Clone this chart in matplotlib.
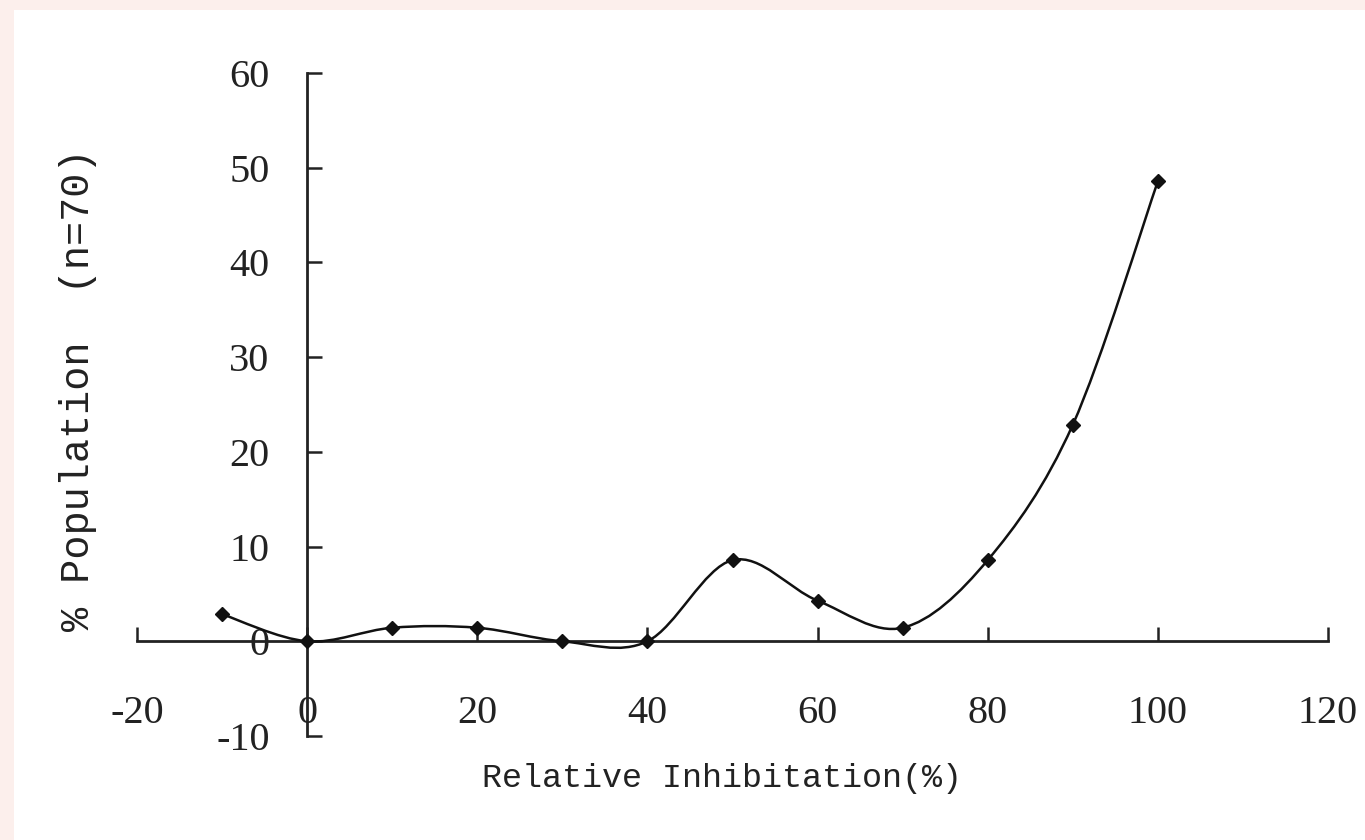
import numpy as np
import matplotlib
matplotlib.use("Agg")
import matplotlib.pyplot as plt
from matplotlib.path import Path
from matplotlib.patches import PathPatch, Rectangle

# Data
inhibition = [-10, 0, 10, 20, 30, 40, 50, 60, 70, 80, 90, 100]
population = [2.86, 0.0, 1.43, 1.43, 0.0, 0.0, 8.57, 4.29, 1.43, 8.57, 22.86, 48.57]
x_ticks = [-20, 0, 20, 40, 60, 80, 100, 120]
y_ticks = [-10, 0, 10, 20, 30, 40, 50, 60]
x_label = "Relative Inhibitation(%)"
y_label = "% Population  (n=70)"

fig = plt.figure(figsize=(13.65, 8.4), dpi=100)
fig.patch.set_facecolor("#fcefec")
bg = Rectangle((14 / 1365, 0), 1 - 14 / 1365, 1 - 10 / 840,
               transform=fig.transFigure, facecolor="white",
               edgecolor="none", zorder=-10)
fig.patches.append(bg)

ax = fig.add_axes([137 / 1365, 1 - 736 / 840, (1328 - 137) / 1365, (736 - 73) / 840])
ax.set_zorder(5)
ax.set_facecolor("none")
ax.set_xlim(-20, 120)
ax.set_ylim(-10, 60)

# smoothed curve (Catmull-Rom style Bezier, like a spreadsheet smoothed line)
xs = np.array(inhibition, dtype=float)
ys = np.array(population, dtype=float)
verts = [(xs[0], ys[0])]
codes = [Path.MOVETO]
n = len(xs)
for i in range(n - 1):
    p0 = np.array([xs[max(i - 1, 0)], ys[max(i - 1, 0)]])
    p1 = np.array([xs[i], ys[i]])
    p2 = np.array([xs[i + 1], ys[i + 1]])
    p3 = np.array([xs[min(i + 2, n - 1)], ys[min(i + 2, n - 1)]])
    c1 = p1 + (p2 - p0) / 6.0
    c2 = p2 - (p3 - p1) / 6.0
    verts += [tuple(c1), tuple(c2), tuple(p2)]
    codes += [Path.CURVE4] * 3
ax.add_patch(PathPatch(Path(verts, codes), facecolor="none", edgecolor="#111111",
                       lw=1.8, zorder=3))
ax.plot(inhibition, population, linestyle="none", marker="D", markersize=7.5,
        color="#111111", zorder=4)

# spines crossing at origin
for s in ["top", "right"]:
    ax.spines[s].set_visible(False)
ax.spines["left"].set_position(("data", 0))
ax.spines["bottom"].set_position(("data", 0))
for s in ["left", "bottom"]:
    ax.spines[s].set_linewidth(2.0)
    ax.spines[s].set_color("#222222")

tick_font = {"family": "Liberation Serif", "size": 29}
ax.set_xticks(x_ticks)
ax.set_xticklabels([str(v) for v in x_ticks], fontdict=tick_font, color="#222222")
ax.set_yticks(y_ticks)
ax.set_yticklabels([str(v) for v in y_ticks], fontdict=tick_font, color="#222222")
ax.tick_params(axis="x", direction="in", length=10, width=1.8, pad=39, color="#222222")
ax.tick_params(axis="y", direction="in", length=11, width=1.8, pad=27, color="#222222")

fig.text(722 / 1365, 1 - 778 / 840, x_label, family="Liberation Mono", fontsize=24,
         ha="center", va="center", color="#222222")
fig.text(78 / 1365, 1 - 390 / 840, y_label, family="Liberation Mono", fontsize=29,
         ha="center", va="center", rotation=90, color="#222222")

fig.savefig("out.png", dpi=100, facecolor=fig.get_facecolor())
